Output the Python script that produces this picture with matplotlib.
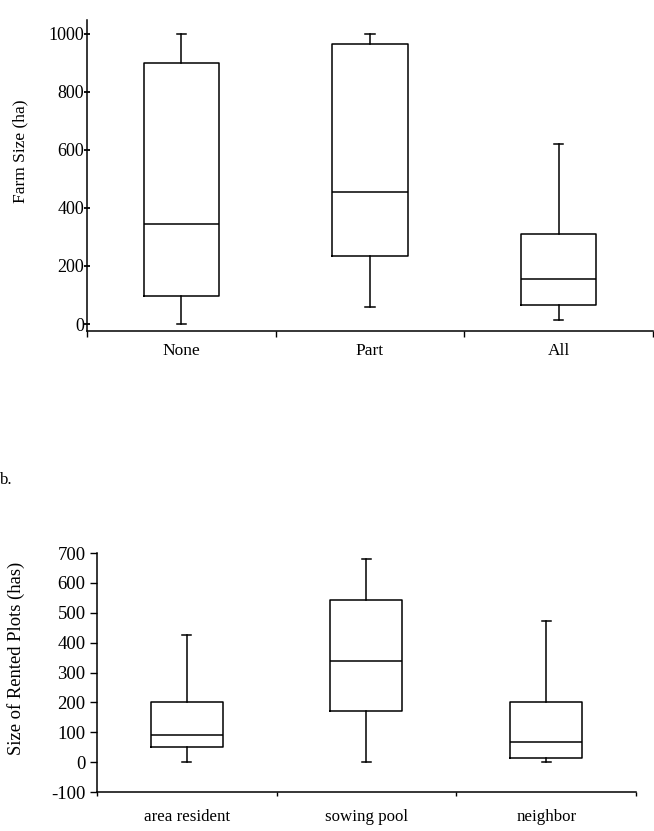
import matplotlib
matplotlib.use("Agg")
import matplotlib.pyplot as plt

plt.rcParams["font.family"] = ["Liberation Serif", "DejaVu Serif"]
plt.rcParams["axes.unicode_minus"] = False

# ------------------------------------------------------------
# datos (panel superior)
# ------------------------------------------------------------
farm_groups = ["None", "Part", "All"]
farm_low = [0, 59, 14]
farm_q1 = [97, 234, 66]
farm_med = [345, 455, 155]
farm_q3 = [900, 966, 310]
farm_high = [1000, 1000, 621]
farm_yticks = [0, 200, 400, 600, 800, 1000]

# ------------------------------------------------------------
# datos (panel inferior)
# ------------------------------------------------------------
rent_groups = ["area resident", "sowing pool", "neighbor"]
rent_low = [0, 0, 1]
rent_q1 = [50, 172, 13]
rent_med = [90, 338, 66]
rent_q3 = [200, 542, 200]
rent_high = [425, 680, 474]
rent_yticks = [-100, 0, 100, 200, 300, 400, 500, 600, 700]


def make_stats(groups, low, q1, med, q3, high):
    return [
        {"label": g, "whislo": lo, "q1": a, "med": m, "q3": b, "whishi": hi, "fliers": []}
        for g, lo, a, m, b, hi in zip(groups, low, q1, med, q3, high)
    ]


def draw_boxes(ax, stats):
    pos = [i + 0.5 for i in range(len(stats))]
    ax.bxp(
        stats,
        positions=pos,
        widths=0.4,
        showfliers=False,
        capwidths=0.05,
        boxprops=dict(color="black", linewidth=1.1),
        medianprops=dict(color="black", linewidth=1.1),
        whiskerprops=dict(color="black", linewidth=1.1),
        capprops=dict(color="black", linewidth=1.1),
        manage_ticks=False,
    )
    ax.set_xlim(0, len(stats))
    ax.set_xticks(range(len(stats) + 1))
    ax.set_xticklabels([])
    ax.set_xticks(pos, minor=True)
    ax.set_xticklabels([s["label"] for s in stats], minor=True)
    ax.tick_params(axis="x", which="minor", length=0)
    ax.spines["top"].set_visible(False)
    ax.spines["right"].set_visible(False)
    for s in ["left", "bottom"]:
        ax.spines[s].set_linewidth(1.1)


fig = plt.figure(figsize=(6.54, 8.31), dpi=100)

# panel superior
ax1 = fig.add_axes([0.133, 0.6017, 0.8655, 0.3743])
draw_boxes(ax1, make_stats(farm_groups, farm_low, farm_q1, farm_med, farm_q3, farm_high))
ax1.set_ylim(-24, 1048)
ax1.set_yticks(farm_yticks)
ax1.tick_params(axis="y", direction="inout", length=5, width=1.3, pad=-0.5, labelsize=13)
ax1.tick_params(axis="x", which="major", direction="out", length=4, width=1)
ax1.tick_params(axis="x", which="minor", pad=9, labelsize=12.5)
ax1.set_ylabel("Farm Size (ha)", fontsize=12.5)
ax1.yaxis.set_label_coords(-0.103, 0.579)

# panel inferior
ax2 = fig.add_axes([0.148, 0.0469, 0.8245, 0.2876])
draw_boxes(ax2, make_stats(rent_groups, rent_low, rent_q1, rent_med, rent_q3, rent_high))
ax2.set_ylim(-100, 700)
ax2.set_yticks(rent_yticks)
ax2.tick_params(axis="y", direction="out", length=5, width=1, pad=3, labelsize=13.5)
ax2.tick_params(axis="x", which="major", direction="out", length=3, width=1)
ax2.tick_params(axis="x", which="minor", pad=12, labelsize=12.2)
ax2.set_ylabel("Size of Rented Plots (has)", fontsize=13.4)
ax2.yaxis.set_label_coords(-0.133, 0.559)

# etiqueta del panel
fig.text(0.0, 1 - 480 / 831, "b.", ha="left", va="center", fontsize=12)

fig.savefig("out.png", dpi=100)
